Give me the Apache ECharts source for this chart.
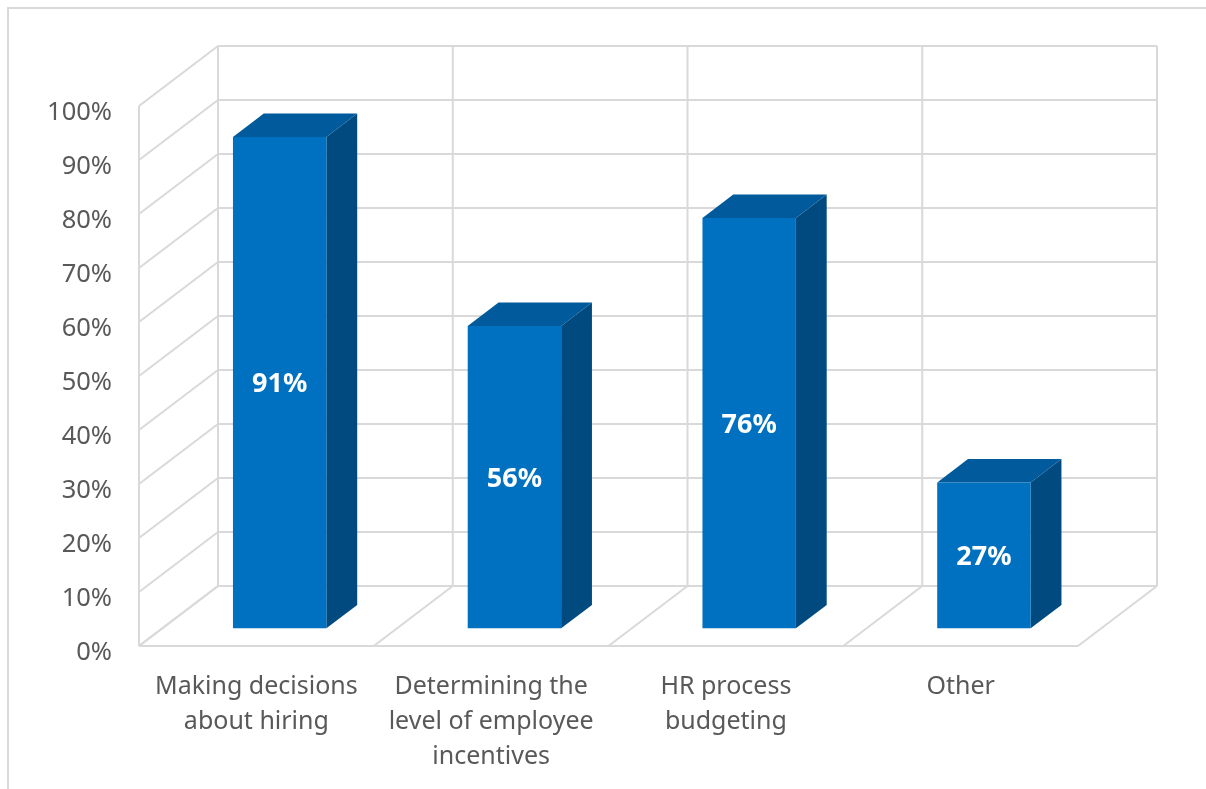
<!DOCTYPE html>
<html>
<head>
<meta charset="utf-8">
<title>Chart</title>
<script src="https://cdn.jsdelivr.net/npm/echarts@6/dist/echarts.min.js"></script>
<style>
  html, body { margin: 0; padding: 0; background: #ffffff; }
  #chart { width: 1206px; height: 789px; }
</style>
</head>
<body>
<div id="chart"></div>
<script>
// Categories and their shares (percent)
const categories = [
  'Making decisions about hiring',
  'Determining the level of employee incentives',
  'HR process budgeting',
  'Other'
];
const values = [91, 56, 76, 27];

// Value axis ticks
const yMin = 0;
const yMax = 100;
const yStep = 10;
const yTicks = [0, 10, 20, 30, 40, 50, 60, 70, 80, 90, 100];

// 3D look: depth offset of the back wall and bar placement within the depth
const DEPTH_DX = 79;
const DEPTH_DY = -60;
const BAR_Z0 = 0.295;      // bar front face position (fraction of depth)
const BAR_DEPTH = 0.39;    // bar depth (fraction of depth)
const BAR_WIDTH = 0.398;   // bar width (fraction of category band)

const GRID_COLOR = '#d9d9d9';
const FRONT_COLOR = '#0070c0';
const TOP_COLOR = '#005a9b';
const SIDE_COLOR = '#004a80';
const TEXT_COLOR = '#595959';

function wrap(text, maxChars) {
  const words = text.split(' ');
  const lines = [];
  let cur = '';
  words.forEach(w => {
    if (cur && (cur + ' ' + w).length > maxChars) { lines.push(cur); cur = w; }
    else { cur = cur ? cur + ' ' + w : w; }
  });
  if (cur) lines.push(cur);
  return lines.join('\n');
}

const chart = echarts.init(document.getElementById('chart'), null, { renderer: 'canvas' });

function lineEl(x1, y1, x2, y2) {
  return {
    type: 'line',
    shape: { x1: x1, y1: y1, x2: x2, y2: y2 },
    style: { stroke: GRID_COLOR, lineWidth: 2 },
    silent: true
  };
}

// Walls, floor and gridlines of the 3D frame
function renderFrame(params, api) {
  const bw = api.size([1, 0])[0];
  const n = categories.length;
  const x0 = api.coord([0, yMin])[0] - bw / 2;
  const x1 = api.coord([n - 1, yMin])[0] + bw / 2;
  const yAt = v => api.coord([0, v])[1];
  const y0 = yAt(yMin);
  const yTop = yAt(yMax);
  const children = [];

  // Left wall and back wall horizontal gridlines
  yTicks.forEach(v => {
    const y = yAt(v);
    children.push(lineEl(x0, y, x0 + DEPTH_DX, y + DEPTH_DY));
    children.push(lineEl(x0 + DEPTH_DX, y + DEPTH_DY, x1 + DEPTH_DX, y + DEPTH_DY));
  });
  // Left wall front edge
  children.push(lineEl(x0, y0, x0, yTop));
  // Back wall verticals and floor diagonals at category boundaries
  for (let i = 0; i <= n; i++) {
    const x = x0 + i * bw;
    children.push(lineEl(x + DEPTH_DX, y0 + DEPTH_DY, x + DEPTH_DX, yTop + DEPTH_DY));
    children.push(lineEl(x, y0, x + DEPTH_DX, y0 + DEPTH_DY));
  }
  // Floor front edge
  children.push(lineEl(x0, y0, x1, y0));

  return { type: 'group', children: children };
}

// One 3D box per category
function renderBar(params, api) {
  const i = api.value(0);
  const v = api.value(1);
  const bw = api.size([1, 0])[0];
  const w = bw * BAR_WIDTH;
  const base = api.coord([i, 0]);
  const top = api.coord([i, v]);
  const ox = DEPTH_DX * BAR_Z0;
  const oy = DEPTH_DY * BAR_Z0;
  const ddx = DEPTH_DX * BAR_DEPTH;
  const ddy = DEPTH_DY * BAR_DEPTH;

  const xl = base[0] - w / 2 + ox;
  const xr = base[0] + w / 2 + ox;
  const yb = base[1] + oy;
  const yt = top[1] + oy;

  return {
    type: 'group',
    children: [
      {
        type: 'polygon',
        shape: { points: [[xr, yb], [xr + ddx, yb + ddy], [xr + ddx, yt + ddy], [xr, yt]] },
        style: { fill: SIDE_COLOR }
      },
      {
        type: 'polygon',
        shape: { points: [[xl, yt], [xr, yt], [xr + ddx, yt + ddy], [xl + ddx, yt + ddy]] },
        style: { fill: TOP_COLOR }
      },
      {
        type: 'rect',
        shape: { x: xl, y: yt, width: xr - xl, height: yb - yt },
        style: { fill: FRONT_COLOR }
      },
      {
        type: 'text',
        x: (xl + xr) / 2,
        y: (yt + yb) / 2 + 2,
        style: {
          text: v + '%',
          fill: '#ffffff',
          fontFamily: 'Noto Sans',
          fontWeight: 'bold',
          fontSize: 27,
          align: 'center',
          verticalAlign: 'middle'
        }
      }
    ]
  };
}

const option = {
  animation: false,
  backgroundColor: '#ffffff',
  graphic: [
    {
      type: 'rect',
      shape: { x: 8, y: 8, width: 1220, height: 800 },
      style: { fill: 'none', stroke: GRID_COLOR, lineWidth: 2 },
      silent: true,
      z: 0
    }
  ],
  grid: { left: 139, right: 128, top: 106, bottom: 143, containLabel: false },
  xAxis: {
    type: 'category',
    data: categories,
    axisLine: { show: false },
    axisTick: { show: false },
    splitLine: { show: false },
    axisLabel: {
      interval: 0,
      color: TEXT_COLOR,
      fontFamily: 'Noto Sans',
      fontSize: 25,
      lineHeight: 35,
      margin: 23,
      formatter: s => wrap(s, 17)
    }
  },
  yAxis: {
    type: 'value',
    min: yMin,
    max: yMax,
    interval: yStep,
    axisLine: { show: false },
    axisTick: { show: false },
    splitLine: { show: false },
    axisLabel: {
      color: TEXT_COLOR,
      fontFamily: 'Noto Sans',
      fontSize: 25.5,
      margin: 27,
      verticalAlign: 'top',
      lineHeight: 13,
      formatter: '{value}%'
    }
  },
  series: [
    {
      type: 'custom',
      renderItem: renderFrame,
      data: [[0, 0]],
      silent: true,
      z: 1
    },
    {
      type: 'custom',
      renderItem: renderBar,
      data: values.map((v, i) => [i, v]),
      z: 2
    }
  ]
};

chart.setOption(option);
</script>
</body>
</html>
